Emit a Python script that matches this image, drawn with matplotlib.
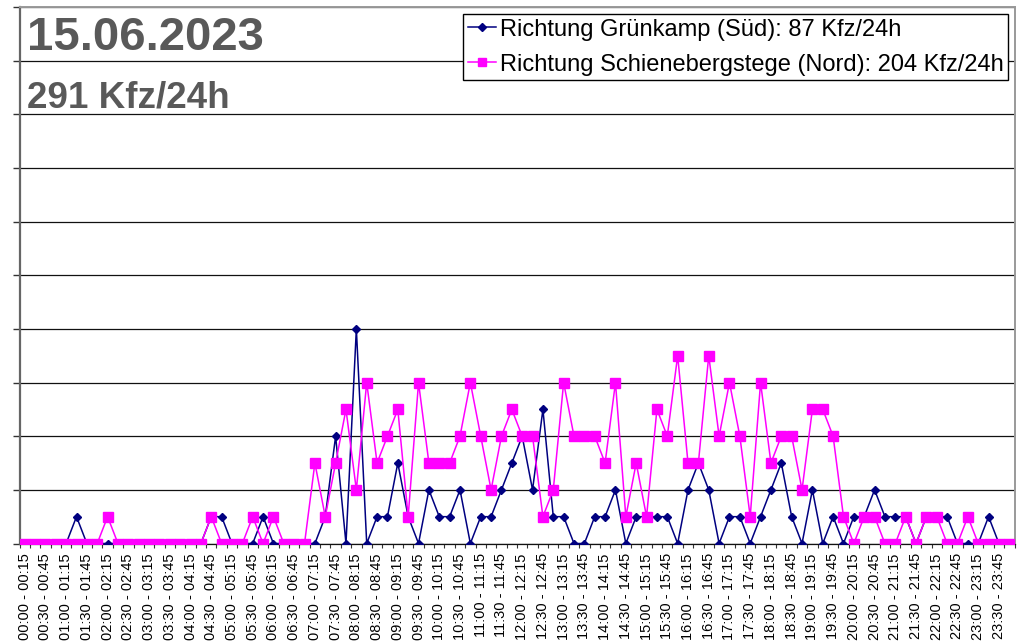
import numpy as np
import matplotlib
matplotlib.use('Agg')
import matplotlib.pyplot as plt

plt.rcParams['font.family'] = ['Liberation Sans', 'DejaVu Sans']

# 15-minute intervals over the day
slots = ['{:02d}:{:02d} - {:02d}:{:02d}'.format(i * 15 // 60, i * 15 % 60,
                                               (i + 1) * 15 // 60 % 24, (i + 1) * 15 % 60)
         for i in range(96)]

# Richtung Gruenkamp (Sued)
sued = [0, 0, 0, 0, 0, 1, 0, 0, 0, 0, 0, 0, 0, 0, 0, 0, 0, 0, 1, 1,
        0, 0, 0, 1, 0, 0, 0, 0, 0, 1, 4, 0, 8, 0, 1, 1, 3, 1, 0, 2,
        1, 1, 2, 0, 1, 1, 2, 3, 4, 2, 5, 1, 1, 0, 0, 1, 1, 2, 0, 1,
        1, 1, 1, 0, 2, 3, 2, 0, 1, 1, 0, 1, 2, 3, 1, 0, 2, 0, 1, 0,
        1, 1, 2, 1, 1, 1, 0, 1, 1, 1, 0, 0, 0, 1, 0, 0]
# Richtung Schienebergstege (Nord)
nord = [0, 0, 0, 0, 0, 0, 0, 0, 1, 0, 0, 0, 0, 0, 0, 0, 0, 0, 1, 0,
        0, 0, 1, 0, 1, 0, 0, 0, 3, 1, 3, 5, 2, 6, 3, 4, 5, 1, 6, 3,
        3, 3, 4, 6, 4, 2, 4, 5, 4, 4, 1, 2, 6, 4, 4, 4, 3, 6, 1, 3,
        1, 5, 4, 7, 3, 3, 7, 4, 6, 4, 1, 6, 3, 4, 4, 2, 5, 5, 4, 1,
        0, 1, 1, 0, 0, 1, 0, 1, 1, 0, 0, 1, 0, 0, 0, 0]

label_sued = 'Richtung Grünkamp (Süd): {} Kfz/24h'.format(sum(sued))
label_nord = 'Richtung Schienebergstege (Nord): {} Kfz/24h'.format(sum(nord))
date_text = '15.06.2023'
total_text = '{} Kfz/24h'.format(sum(sued) + sum(nord))

W, H = 1018, 643
fig = plt.figure(figsize=(W / 100, H / 100), dpi=100)
ax = fig.add_axes([19.5 / W, 1 - 543.5 / H, (1014.5 - 19.5) / W, (543.5 - 7) / H])

x = np.arange(len(slots))
ax.plot(x, sued, color='#000080', lw=1.1, marker='D', ms=4.5, zorder=3, label=label_sued)
ax.plot(x, nord, color='#FF00FF', lw=1.1, marker='s', ms=6.5, zorder=4, label=label_nord)

ax.set_xlim(-0.5, len(slots) - 0.5)
ax.set_ylim(0, 20)
ax.set_yticks(np.arange(0, 21, 2))
ax.set_yticklabels([])
ax.yaxis.grid(True, color='#111111', lw=0.9)
ax.set_axisbelow(True)
ax.tick_params(axis='y', length=5, width=1, color='#333333', direction='out')

ax.set_xticks(x[::2])
ax.set_xticklabels(slots[::2], rotation=90, fontsize=10.5, va='top', ha='center')
ax.set_xticks(np.arange(-0.5, len(slots), 1), minor=True)
ax.tick_params(axis='x', which='major', length=0, pad=7)
ax.tick_params(axis='x', which='minor', length=3, width=0.8, color='#333333')

ax.spines['left'].set_color('#666666')
ax.spines['left'].set_linewidth(1.6)
ax.spines['bottom'].set_color('#111111')
ax.spines['bottom'].set_linewidth(0.9)
for s in ['top', 'right']:
    ax.spines[s].set_color('#999999')
    ax.spines[s].set_linewidth(1.4)

leg = ax.legend(loc='upper right', bbox_to_anchor=(1008 / W, 1 - 14 / H),
                bbox_transform=fig.transFigure, fontsize=17, numpoints=1,
                handlelength=1.2, handletextpad=0.15, borderpad=0.2,
                labelspacing=0.55, borderaxespad=0, fancybox=False,
                framealpha=1, edgecolor='black')
leg.get_frame().set_linewidth(1.0)
leg.set_zorder(10)
for h in leg.legend_handles:
    h.set_markersize(h.get_markersize() * 0.8)

fig.text(27 / W, 1 - 50 / H, date_text, fontsize=34, fontweight='bold',
         color='#595959', va='baseline', ha='left')
fig.text(27 / W, 1 - 107 / H, total_text, fontsize=26.5, fontweight='bold',
         color='#595959', va='baseline', ha='left')

fig.savefig('out.png', dpi=100)
